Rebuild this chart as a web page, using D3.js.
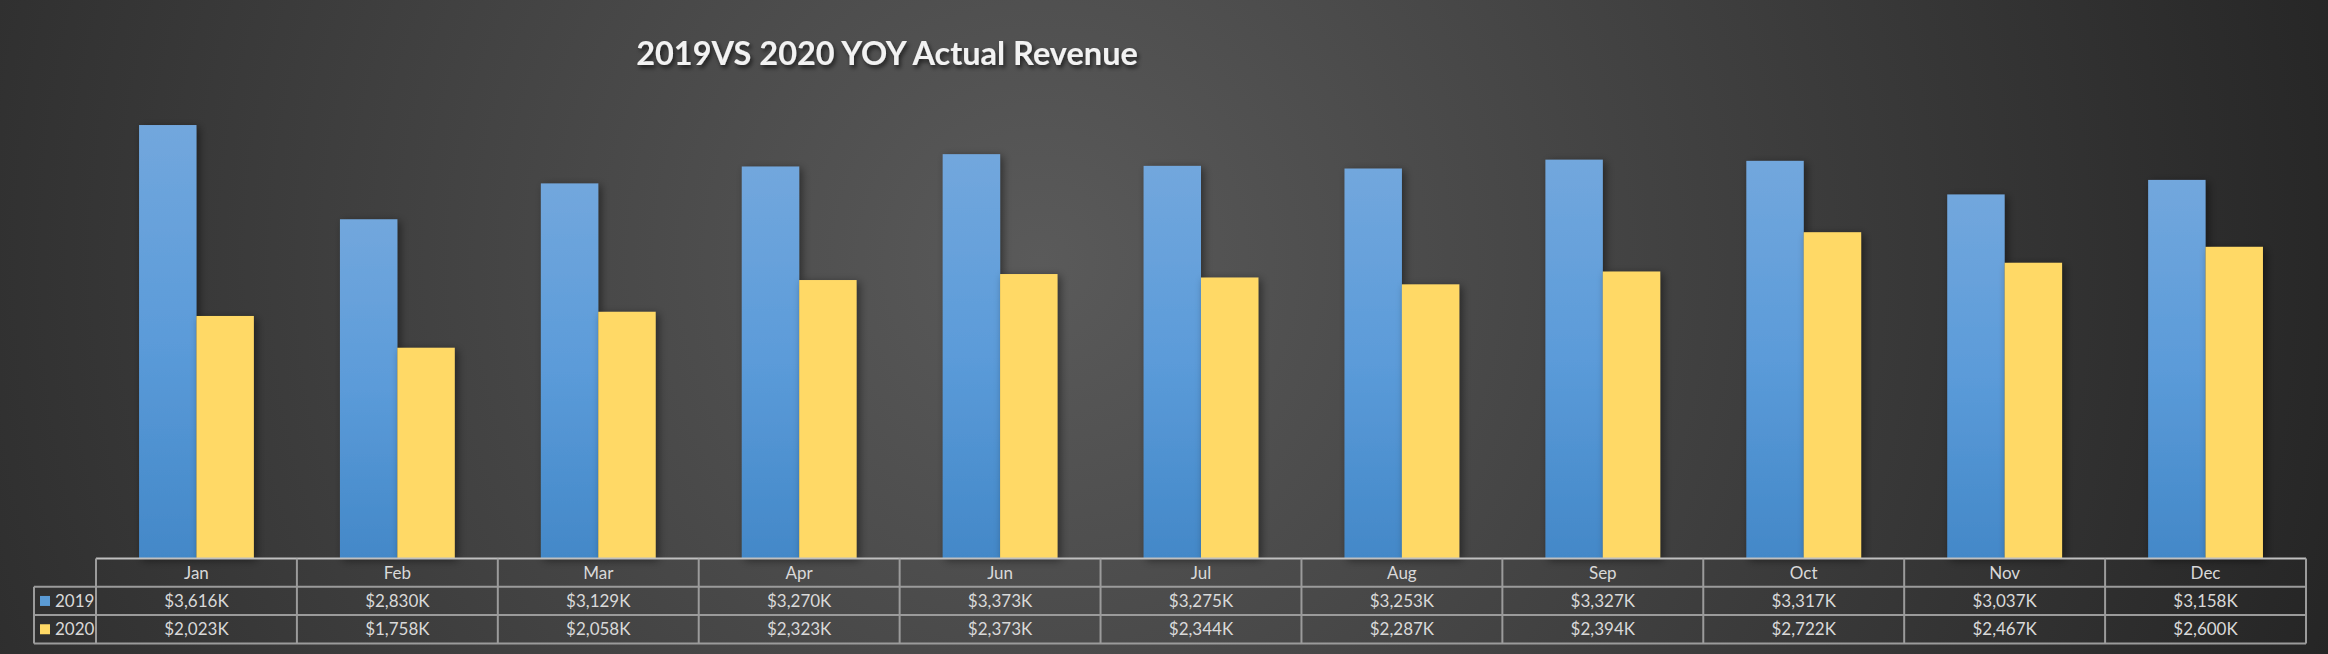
<!DOCTYPE html>
<html>
<head>
<meta charset="utf-8">
<script src="https://cdn.jsdelivr.net/npm/d3@7"></script>
<style>
  html, body { margin: 0; padding: 0; background: #262626; }
  svg { display: block; }
</style>
</head>
<body>
<div id="chart"></div>
<script>
// months shown in the source (no May in the sheet)
const categories = ['Jan', 'Feb', 'Mar', 'Apr', 'Jun', 'Jul', 'Aug', 'Sep', 'Oct', 'Nov', 'Dec'];
const seriesNames = ['2019', '2020'];
const revenue2019 = [3616, 2830, 3129, 3270, 3373, 3275, 3253, 3327, 3317, 3037, 3158];
const revenue2020 = [2023, 1758, 2058, 2323, 2373, 2344, 2287, 2394, 2722, 2467, 2600];
const yDomain = [0, 4000];
const titleText = '2019VS 2020 YOY Actual Revenue';

const W = 2328;
const H = 654;
const margin = { top: 79, right: 22, bottom: 96, left: 96 };
const rowH = 28.3;

const series = [
  { name: seriesNames[0], values: revenue2019, fill: 'url(#blueGrad)', key: '#5b9bd5' },
  { name: seriesNames[1], values: revenue2020, fill: '#ffd966', key: '#ffd966' },
];

const fmt = v => '$' + d3.format(',')(v) + 'K';

const svg = d3.select('#chart').append('svg')
  .attr('width', W)
  .attr('height', H);

const defs = svg.append('defs');

const bg = defs.append('radialGradient')
  .attr('id', 'bgGrad')
  .attr('gradientUnits', 'userSpaceOnUse')
  .attr('cx', 1040).attr('cy', 260).attr('r', 1380);
bg.append('stop').attr('offset', '0%').attr('stop-color', '#5a5a5a');
bg.append('stop').attr('offset', '100%').attr('stop-color', '#242424');

const blue = defs.append('linearGradient')
  .attr('id', 'blueGrad')
  .attr('x1', 0).attr('y1', 0).attr('x2', 0).attr('y2', 1);
blue.append('stop').attr('offset', '0%').attr('stop-color', '#72a7dd');
blue.append('stop').attr('offset', '50%').attr('stop-color', '#5b9bd9');
blue.append('stop').attr('offset', '100%').attr('stop-color', '#4388c8');

const shadow = defs.append('filter')
  .attr('id', 'barShadow')
  .attr('x', '-30%').attr('y', '-10%').attr('width', '160%').attr('height', '120%');
shadow.append('feDropShadow')
  .attr('dx', 3).attr('dy', 2).attr('stdDeviation', 4)
  .attr('flood-color', '#000').attr('flood-opacity', 0.45);

const tShadow = defs.append('filter')
  .attr('id', 'titleShadow')
  .attr('x', '-10%').attr('y', '-30%').attr('width', '120%').attr('height', '160%');
tShadow.append('feDropShadow')
  .attr('dx', 2).attr('dy', 3).attr('stdDeviation', 2)
  .attr('flood-color', '#000').attr('flood-opacity', 0.6);

svg.append('rect')
  .attr('width', W).attr('height', H)
  .attr('fill', 'url(#bgGrad)');

const plotBottom = H - margin.bottom + 0.5;

const x0 = d3.scaleBand()
  .domain(categories)
  .range([margin.left, W - margin.right])
  .paddingInner(0)
  .paddingOuter(0);

// Excel gap width 150%: half a gap (0.75 bar) on each side
const x1 = d3.scaleBand()
  .domain(seriesNames)
  .range([0, x0.bandwidth()])
  .paddingInner(0)
  .paddingOuter(0.75);

const y = d3.scaleLinear()
  .domain(yDomain)
  .range([plotBottom, margin.top]);

// title
svg.append('text')
  .attr('x', 887)
  .attr('y', 65)
  .attr('text-anchor', 'middle')
  .attr('font-family', 'Lato, "Open Sans", sans-serif')
  .attr('font-weight', 'bold')
  .attr('font-size', 32.5)
  .attr('fill', '#f2f2f2')
  .attr('filter', 'url(#titleShadow)')
  .text(titleText);

// bars
const groups = svg.append('g').attr('class', 'bars')
  .selectAll('g')
  .data(series)
  .join('g')
  .attr('fill', d => d.fill)
  .attr('filter', 'url(#barShadow)');

groups.selectAll('rect')
  .data(s => s.values.map((v, i) => ({ cat: categories[i], value: v, name: s.name })))
  .join('rect')
  .attr('x', d => x0(d.cat) + x1(d.name))
  .attr('y', d => y(d.value))
  .attr('width', x1.bandwidth())
  .attr('height', d => y(0) - y(d.value));

// data table
const table = svg.append('g').attr('class', 'data-table');
const tableTop = plotBottom;
const tableBottom = tableTop + rowH * 3;
const labelLeft = 34;
const lineColor = '#9b9b9b';
const textColor = '#d9d9d9';
const tableFont = 'Lato, "Open Sans", sans-serif';

// horizontal rules
table.append('line')
  .attr('x1', x0.range()[0]).attr('x2', x0.range()[1])
  .attr('y1', tableTop).attr('y2', tableTop)
  .attr('stroke', '#bfbfbf').attr('stroke-width', 2);
[1, 2, 3].forEach(r => {
  table.append('line')
    .attr('x1', labelLeft).attr('x2', x0.range()[1])
    .attr('y1', tableTop + rowH * r).attr('y2', tableTop + rowH * r)
    .attr('stroke', lineColor).attr('stroke-width', 2);
});

// vertical rules
table.append('line')
  .attr('x1', labelLeft).attr('x2', labelLeft)
  .attr('y1', tableTop + rowH).attr('y2', tableBottom)
  .attr('stroke', lineColor).attr('stroke-width', 2);
categories.concat(['_end']).forEach((c, i) => {
  const xx = i < categories.length ? x0(c) : x0.range()[1];
  table.append('line')
    .attr('x1', xx).attr('x2', xx)
    .attr('y1', tableTop).attr('y2', tableBottom)
    .attr('stroke', lineColor).attr('stroke-width', 2);
});

// header row
table.selectAll('text.cat')
  .data(categories)
  .join('text')
  .attr('class', 'cat')
  .attr('x', d => x0(d) + x0.bandwidth() / 2)
  .attr('y', tableTop + rowH / 2)
  .attr('dy', '0.35em')
  .attr('text-anchor', 'middle')
  .attr('font-family', tableFont)
  .attr('font-size', 17)
  .attr('fill', textColor)
  .text(d => d);

// series rows
series.forEach((s, r) => {
  const cy = tableTop + rowH * (r + 1.5);
  table.append('rect')
    .attr('x', 40).attr('y', cy - 5)
    .attr('width', 10).attr('height', 10)
    .attr('fill', s.key);
  table.append('text')
    .attr('x', 55)
    .attr('y', cy)
    .attr('dy', '0.35em')
    .attr('font-family', tableFont)
    .attr('font-size', 17)
    .attr('fill', textColor)
    .text(s.name);
  table.selectAll('text.v' + r)
    .data(s.values)
    .join('text')
    .attr('class', 'v' + r)
    .attr('x', (d, i) => x0(categories[i]) + x0.bandwidth() / 2)
    .attr('y', cy)
    .attr('dy', '0.35em')
    .attr('text-anchor', 'middle')
    .attr('font-family', tableFont)
    .attr('font-size', 17)
    .attr('fill', textColor)
    .text(d => fmt(d));
});
</script>
</body>
</html>
